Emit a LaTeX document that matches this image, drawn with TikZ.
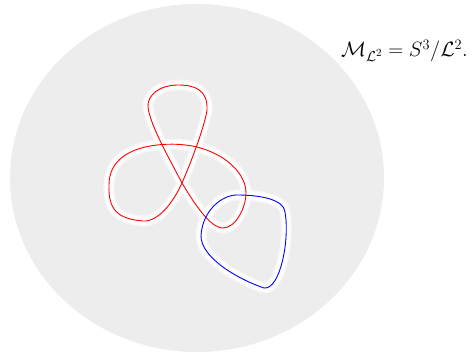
\documentclass[tikz,border=0pt]{standalone}
\usepackage{amsmath}
\usepackage{amssymb}
\usepackage{tikz}
\usetikzlibrary{calc,positioning}

\newcommand{\trefoilpath}{(148,107) .. controls (150,125) and (170,160) .. (182,183) ..
  controls (194,203) and (210,228) .. (223,228) ..
  controls (236,228) and (246,207) .. (246,193) ..
  controls (246,175) and (228,155) .. (197,147) ..
  controls (184,144) and (170,143.5) .. (157,145) ..
  controls (130,148) and (109,160) .. (109,185) ..
  controls (108,210) and (118,219) .. (143,221) ..
  controls (158,222) and (173,203) .. (182,183) ..
  controls (192,160) and (205,125) .. (207,110) ..
  controls (208,90) and (195,85) .. (178,85) ..
  controls (160,85) and (147,95) .. cycle}
\newcommand{\looppath}{(201,235) .. controls (203,210) and (222,195) .. (237,195) ..
  controls (262,195) and (284,200) .. (285,212) ..
  controls (290,240) and (280,290) .. (264,288) ..
  controls (240,280) and (200,258) .. cycle}

\begin{document}
\begin{tikzpicture}[x=1pt, y=-1pt,
  halo/.style={white, line width=8pt},
  softhalo/.style={white, opacity=0.6, line width=11pt},
  knotline/.style={line width=0.9pt}]

\useasboundingbox (0,0) rectangle (472,355);
\fill[black!7] (197,178) ellipse [x radius=187, y radius=174];

% white bands first, then the strands
\draw[softhalo] \trefoilpath;
\draw[softhalo] \looppath;
\draw[halo] \trefoilpath;
\draw[halo] \looppath;
\draw[knotline, red] \trefoilpath;
\draw[knotline, blue] \looppath;

\node[anchor=base west, inner sep=0pt, font=\fontsize{21}{24}\selectfont] (quot) at (341,57)
  {$\mathcal{M}_{\mathcal{L}^2} = S^3/\mathcal{L}^2.$};

\end{tikzpicture}
\end{document}
